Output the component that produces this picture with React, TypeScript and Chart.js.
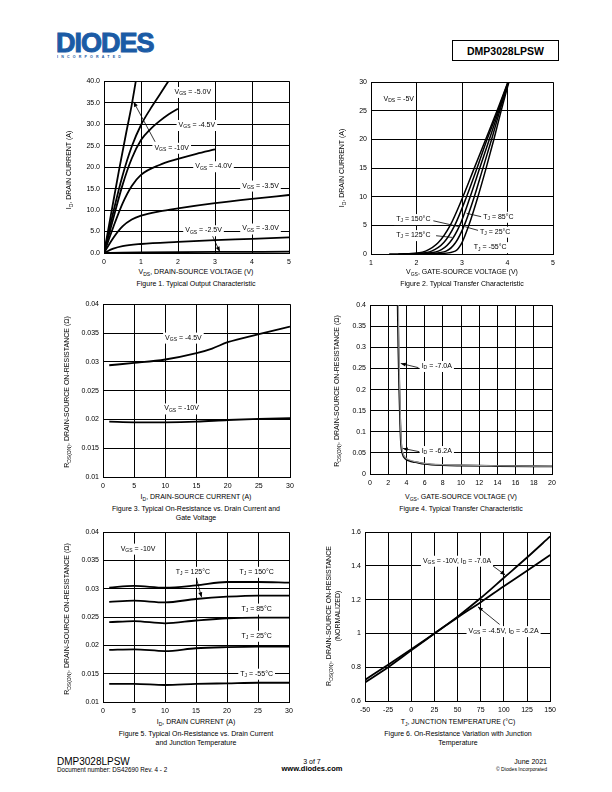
import React, { useEffect, useRef } from 'react';
import { Chart, registerables } from 'chart.js';
Chart.register(...registerables);

const FONT = '"Liberation Sans", Arial, Helvetica, sans-serif';
Chart.defaults.font.family = FONT;
Chart.defaults.font.size = 7;
Chart.defaults.color = '#000';

type P = [number, number];

// ---------- Figure 1: Typical Output Characteristic ----------
const fig1XTicks = [0, 1, 2, 3, 4, 5];
const fig1YTicks = [0, 5, 10, 15, 20, 25, 30, 35, 40];
const fig1Vgs10: P[] = [[0, 0], [0.2, 9.5], [0.4, 19], [0.6, 28], [0.75, 34.5], [0.86, 40]];
const fig1Vgs50: P[] = [[0, 0], [0.25, 9.5], [0.5, 18], [0.75, 24.8], [1, 29.8], [1.25, 33.5], [1.5, 36.8], [1.74, 40]];
const fig1Vgs45: P[] = [[0, 0], [0.25, 8], [0.5, 15.8], [0.75, 22], [1, 26.3], [1.25, 28.8], [1.5, 30.7], [1.75, 32.3], [2, 33.6]];
const fig1Vgs40: P[] = [[0, 0], [0.25, 6], [0.5, 11.5], [0.75, 15.6], [1, 18.2], [1.5, 20.5], [2, 21.9], [2.5, 23.1], [3, 24.1]];
const fig1Vgs35: P[] = [[0, 0], [0.25, 3.5], [0.5, 6.2], [0.75, 7.8], [1, 8.7], [1.5, 9.7], [2, 10.4], [3, 11.6], [4, 12.6], [5, 13.5]];
const fig1Vgs30: P[] = [[0, 0], [0.25, 1.0], [0.5, 1.6], [1, 2.1], [2, 2.6], [3, 3.0], [4, 3.3], [5, 3.66]];
const fig1Vgs25: P[] = [[0, 0], [0.5, 0.1], [1, 0.15], [3, 0.25], [5, 0.3]];

// ---------- Figure 2: Typical Transfer Characteristic ----------
const fig2XTicks = [1, 2, 3, 4, 5];
const fig2YTicks = [0, 5, 10, 15, 20, 25, 30];
const fig2T150: P[] = [[1.4, 0], [1.8, 0.05], [2.0, 0.15], [2.2, 0.5], [2.48, 2], [2.74, 5], [3.02, 10], [3.27, 15], [3.52, 20], [3.77, 25], [4.01, 30]];
const fig2T125: P[] = [[1.6, 0], [2.0, 0.12], [2.33, 0.5], [2.6, 2], [2.84, 5], [3.1, 10], [3.33, 15], [3.55, 20], [3.79, 25], [4.01, 30]];
const fig2T85: P[] = [[1.8, 0], [2.1, 0.1], [2.48, 0.5], [2.73, 2], [2.95, 5], [3.18, 10], [3.39, 15], [3.6, 20], [3.81, 25], [4.02, 30]];
const fig2T25: P[] = [[2.0, 0], [2.3, 0.12], [2.65, 0.5], [2.86, 2], [3.05, 5], [3.27, 10], [3.46, 15], [3.65, 20], [3.83, 25], [4.02, 30]];
const fig2Tm55: P[] = [[2.3, 0], [2.5, 0.08], [2.85, 0.5], [3.0, 2], [3.15, 5], [3.35, 10], [3.53, 15], [3.7, 20], [3.86, 25], [4.03, 30]];

// ---------- Figure 3: On-Resistance vs Drain Current and Gate Voltage ----------
const fig3XTicks = [0, 5, 10, 15, 20, 25, 30];
const fig3YTicks = [0.01, 0.015, 0.02, 0.025, 0.03, 0.035, 0.04];
const fig3Vgs45: P[] = [[1, 0.0294], [5, 0.0298], [10, 0.0304], [15, 0.0315], [17.5, 0.0323], [20, 0.0334], [25, 0.0348], [30, 0.0361]];
const fig3Vgs10: P[] = [[1, 0.0196], [5, 0.0195], [10, 0.0195], [15, 0.0196], [20, 0.0199], [25, 0.0201], [30, 0.0202]];

// ---------- Figure 4: On-Resistance vs Gate-Source Voltage ----------
const fig4XTicks = [0, 2, 4, 6, 8, 10, 12, 14, 16, 18, 20];
const fig4YTicks = [0, 0.05, 0.1, 0.15, 0.2, 0.25, 0.3, 0.35, 0.4];
const fig4Id70: P[] = [[3.05, 0.4], [3.12, 0.3], [3.22, 0.2], [3.32, 0.12], [3.42, 0.07], [3.6, 0.047], [3.85, 0.037], [4.5, 0.03], [5, 0.028], [6, 0.024], [8, 0.021], [10, 0.02], [14, 0.019], [20, 0.018]];
const fig4Id62: P[] = [[3.12, 0.4], [3.18, 0.3], [3.27, 0.2], [3.36, 0.12], [3.46, 0.072], [3.62, 0.05], [3.9, 0.039], [4.5, 0.032], [5, 0.029], [6, 0.025], [8, 0.022], [10, 0.021], [14, 0.0195], [20, 0.0185]];

// ---------- Figure 5: On-Resistance vs Drain Current and Temperature ----------
const fig5XTicks = [0, 5, 10, 15, 20, 25, 30];
const fig5YTicks = [0.01, 0.015, 0.02, 0.025, 0.03, 0.035, 0.04];
const fig5T150: P[] = [[1, 0.0302], [5, 0.0305], [10, 0.0302], [15, 0.0306], [20, 0.0312], [25, 0.0312], [30, 0.0311]];
const fig5T125: P[] = [[1, 0.0277], [5, 0.0279], [10, 0.0276], [15, 0.0282], [20, 0.0286], [25, 0.0288], [30, 0.0288]];
const fig5T85: P[] = [[1, 0.0241], [5, 0.0243], [10, 0.0239], [15, 0.0244], [20, 0.0248], [25, 0.0249], [30, 0.0249]];
const fig5T25: P[] = [[1, 0.0192], [5, 0.0193], [10, 0.019], [15, 0.0195], [20, 0.0197], [25, 0.0198], [30, 0.0198]];
const fig5Tm55: P[] = [[1, 0.0132], [5, 0.0132], [10, 0.013], [15, 0.0132], [20, 0.0133], [25, 0.0134], [30, 0.0134]];

// ---------- Figure 6: On-Resistance vs Junction Temperature ----------
const fig6XTicks = [-50, -25, 0, 25, 50, 75, 100, 125, 150];
const fig6YTicks = [0.6, 0.8, 1, 1.2, 1.4, 1.6];
const fig6Vgs10: P[] = [[-50, 0.71], [-25, 0.8], [0, 0.9], [25, 1.0], [50, 1.1], [75, 1.21], [100, 1.33], [125, 1.45], [150, 1.575]];
const fig6Vgs45: P[] = [[-50, 0.725], [-25, 0.815], [0, 0.907], [25, 1.0], [50, 1.095], [75, 1.185], [100, 1.28], [125, 1.372], [150, 1.465]];

// ---------- helpers ----------
type Part = { t: string; sub: boolean };
function parseRich(s: string): Part[] {
  const parts: Part[] = [];
  const re = /_\{([^}]*)\}/g;
  let last = 0;
  let m: RegExpExecArray | null;
  while ((m = re.exec(s))) {
    if (m.index > last) parts.push({ t: s.slice(last, m.index), sub: false });
    parts.push({ t: m[1], sub: true });
    last = re.lastIndex;
  }
  if (last < s.length) parts.push({ t: s.slice(last), sub: false });
  return parts;
}

type Label = { x: number; y: number; t: string };
type Arrow = { from: P; to: P; head?: boolean };
type Series = { data: P[]; color?: string; width?: number };
type Spec = {
  left: number; top: number; w: number; h: number;
  xMin: number; xMax: number; yMin: number; yMax: number;
  xTicks: number[]; yTicks: number[];
  xFmt: (v: number) => string; yFmt: (v: number) => string;
  series: Series[]; labels: Label[]; arrows: Arrow[];
};

function makeAnnotPlugin(labels: Label[], arrows: Arrow[]) {
  return {
    id: 'annots',
    afterDatasetsDraw(chart: any) {
      const { ctx } = chart;
      const xs = chart.scales.x;
      const ys = chart.scales.y;
      ctx.save();
      ctx.strokeStyle = '#000';
      ctx.fillStyle = '#000';
      ctx.lineWidth = 0.8;
      for (const a of arrows) {
        const x1 = xs.getPixelForValue(a.from[0]);
        const y1 = ys.getPixelForValue(a.from[1]);
        const x2 = xs.getPixelForValue(a.to[0]);
        const y2 = ys.getPixelForValue(a.to[1]);
        ctx.beginPath();
        ctx.moveTo(x1, y1);
        ctx.lineTo(x2, y2);
        ctx.stroke();
        if (a.head) {
          const ang = Math.atan2(y2 - y1, x2 - x1);
          const L = 5, W = 2;
          ctx.beginPath();
          ctx.moveTo(x2, y2);
          ctx.lineTo(x2 - L * Math.cos(ang) + W * Math.sin(ang), y2 - L * Math.sin(ang) - W * Math.cos(ang));
          ctx.lineTo(x2 - L * Math.cos(ang) - W * Math.sin(ang), y2 - L * Math.sin(ang) + W * Math.cos(ang));
          ctx.closePath();
          ctx.fill();
        }
      }
      const size = 7;
      const subSize = 5;
      for (const l of labels) {
        const cx = xs.getPixelForValue(l.x);
        const cy = ys.getPixelForValue(l.y);
        const parts = parseRich(l.t);
        let w = 0;
        const ws = parts.map((p) => {
          ctx.font = `${p.sub ? subSize : size}px ${FONT}`;
          const m = ctx.measureText(p.t).width;
          w += m;
          return m;
        });
        let x = cx - w / 2;
        ctx.fillStyle = '#fff';
        ctx.fillRect(x - 2, cy - 5, w + 4, 11);
        ctx.fillStyle = '#000';
        ctx.textBaseline = 'middle';
        ctx.textAlign = 'left';
        parts.forEach((p, i) => {
          ctx.font = `${p.sub ? subSize : size}px ${FONT}`;
          ctx.fillText(p.t, x, p.sub ? cy + 2 : cy);
          x += ws[i];
        });
      }
      ctx.restore();
    },
  };
}

const PAD_L = 40, PAD_T = 8, PAD_R = 10, PAD_B = 14;

function ChartBox({ spec }: { spec: Spec }) {
  const ref = useRef<HTMLCanvasElement>(null);
  const W = spec.w + PAD_L + PAD_R;
  const H = spec.h + PAD_T + PAD_B;
  useEffect(() => {
    const chart = new Chart(ref.current!, {
      type: 'line',
      data: {
        datasets: spec.series.map((s) => ({
          data: s.data.map(([x, y]) => ({ x, y })),
          borderColor: s.color || '#000',
          borderWidth: s.width || 1.8,
          pointRadius: 0,
          fill: false,
          cubicInterpolationMode: 'monotone' as const,
        })),
      },
      options: {
        animation: false,
        responsive: false,
        events: [],
        layout: { padding: { top: PAD_T, right: PAD_R, left: 0, bottom: 0 } },
        plugins: { legend: { display: false }, tooltip: { enabled: false } },
        scales: {
          x: {
            type: 'linear',
            min: spec.xMin,
            max: spec.xMax,
            afterBuildTicks: (s: any) => { s.ticks = spec.xTicks.map((v) => ({ value: v })); },
            afterFit: (s: any) => { s.height = PAD_B; },
            grid: { color: '#000', lineWidth: 1, drawTicks: false },
            border: { color: '#000', width: 1 },
            ticks: { color: '#000', padding: 5, font: { size: 7, family: FONT }, maxRotation: 0, autoSkip: false, callback: (v: any) => spec.xFmt(Number(v)) },
          },
          y: {
            type: 'linear',
            min: spec.yMin,
            max: spec.yMax,
            afterBuildTicks: (s: any) => { s.ticks = spec.yTicks.map((v) => ({ value: v })); },
            afterFit: (s: any) => { s.width = PAD_L; },
            grid: { color: '#000', lineWidth: 1, drawTicks: false },
            border: { color: '#000', width: 1 },
            ticks: { color: '#000', padding: 4, font: { size: 7, family: FONT }, autoSkip: false, callback: (v: any) => spec.yFmt(Number(v)) },
          },
        },
      },
      plugins: [makeAnnotPlugin(spec.labels, spec.arrows)],
    } as any);
    return () => chart.destroy();
  }, []);
  return (
    <canvas
      ref={ref}
      width={W}
      height={H}
      style={{ position: 'absolute', left: spec.left - PAD_L, top: spec.top - PAD_T, width: W, height: H }}
    />
  );
}

const num = (d: number) => (v: number) => String(Number(v.toFixed(d)));
const fixed1 = (v: number) => v.toFixed(1);

const specs: Spec[] = [
  {
    left: 104, top: 81, w: 185, h: 172, xMin: 0, xMax: 5, yMin: 0, yMax: 40,
    xTicks: fig1XTicks, yTicks: fig1YTicks, xFmt: num(0), yFmt: fixed1,
    series: [fig1Vgs10, fig1Vgs50, fig1Vgs45, fig1Vgs40, fig1Vgs35, fig1Vgs30, fig1Vgs25].map((d) => ({ data: d })),
    labels: [
      { x: 2.4, y: 37.5, t: 'V_{GS} = -5.0V' },
      { x: 2.51, y: 29.8, t: 'V_{GS} = -4.5V' },
      { x: 1.83, y: 24.5, t: 'V_{GS} = -10V' },
      { x: 2.96, y: 20.2, t: 'V_{GS} = -4.0V' },
      { x: 4.23, y: 15.7, t: 'V_{GS} = -3.5V' },
      { x: 4.23, y: 5.7, t: 'V_{GS} = -3.0V' },
      { x: 2.69, y: 5.3, t: 'V_{GS} = -2.5V' },
    ],
    arrows: [
      { from: [1.38, 25.9], to: [0.8, 35.2], head: true },
      { from: [2.92, 4.2], to: [3.13, 0.3], head: true },
    ],
  },
  {
    left: 371, top: 82, w: 182, h: 172, xMin: 1, xMax: 5, yMin: 0, yMax: 30,
    xTicks: fig2XTicks, yTicks: fig2YTicks, xFmt: num(0), yFmt: num(0),
    series: [fig2T150, fig2T125, fig2T85, fig2T25, fig2Tm55].map((d) => ({ data: d, width: 1.5 })),
    labels: [
      { x: 1.61, y: 27.1, t: 'V_{DS} = -5V' },
      { x: 1.93, y: 6.1, t: 'T_{J} = 150°C' },
      { x: 1.93, y: 3.3, t: 'T_{J} = 125°C' },
      { x: 3.8, y: 6.5, t: 'T_{J} = 85°C' },
      { x: 3.73, y: 3.9, t: 'T_{J} = 25°C' },
      { x: 3.62, y: 1.2, t: 'T_{J} = -55°C' },
    ],
    arrows: [
      { from: [2.37, 5.8], to: [2.92, 4.8] },
      { from: [2.43, 3.19], to: [2.78, 2.9] },
      { from: [3.43, 6.5], to: [3.1, 7.1] },
      { from: [3.38, 4.06], to: [3.07, 4.76] },
    ],
  },
  {
    left: 103, top: 304, w: 187, h: 173, xMin: 0, xMax: 30, yMin: 0.01, yMax: 0.04,
    xTicks: fig3XTicks, yTicks: fig3YTicks, xFmt: num(0), yFmt: num(3),
    series: [fig3Vgs45, fig3Vgs10].map((d) => ({ data: d })),
    labels: [
      { x: 12.9, y: 0.0342, t: 'V_{GS} = -4.5V' },
      { x: 12.6, y: 0.0219, t: 'V_{GS} = -10V' },
    ],
    arrows: [],
  },
  {
    left: 370, top: 305, w: 182, h: 169, xMin: 0, xMax: 20, yMin: 0, yMax: 0.4,
    xTicks: fig4XTicks, yTicks: fig4YTicks, xFmt: num(0), yFmt: num(2),
    series: [{ data: fig4Id62, color: '#9a9a9a', width: 1.2 }, { data: fig4Id70, width: 1.9 }],
    labels: [
      { x: 7.34, y: 0.256, t: 'I_{D} = -7.0A' },
      { x: 7.34, y: 0.0544, t: 'I_{D} = -6.2A' },
    ],
    arrows: [
      { from: [5.32, 0.252], to: [3.38, 0.262], head: true },
      { from: [5.43, 0.0528], to: [3.6, 0.0607], head: true },
    ],
  },
  {
    left: 103, top: 532, w: 186, h: 170, xMin: 0, xMax: 30, yMin: 0.01, yMax: 0.04,
    xTicks: fig5XTicks, yTicks: fig5YTicks, xFmt: num(0), yFmt: num(3),
    series: [fig5T150, fig5T125, fig5T85, fig5T25, fig5Tm55].map((d) => ({ data: d })),
    labels: [
      { x: 5.65, y: 0.0371, t: 'V_{GS} = -10V' },
      { x: 14.5, y: 0.033, t: 'T_{J} = 125°C' },
      { x: 24.78, y: 0.033, t: 'T_{J} = 150°C' },
      { x: 24.78, y: 0.0265, t: 'T_{J} = 85°C' },
      { x: 24.78, y: 0.0217, t: 'T_{J} = 25°C' },
      { x: 24.78, y: 0.015, t: 'T_{J} = -55°C' },
    ],
    arrows: [{ from: [15.1, 0.0317], to: [15.9, 0.0285], head: true }],
  },
  {
    left: 365, top: 532, w: 186, h: 169, xMin: -50, xMax: 150, yMin: 0.6, yMax: 1.6,
    xTicks: fig6XTicks, yTicks: fig6YTicks, xFmt: num(0), yFmt: num(1),
    series: [fig6Vgs10, fig6Vgs45].map((d) => ({ data: d })),
    labels: [
      { x: 49.4, y: 1.431, t: 'V_{GS} = -10V, I_{D} = -7.0A' },
      { x: 99.7, y: 1.014, t: 'V_{GS} = -4.5V, I_{D} = -6.2A' },
    ],
    arrows: [
      { from: [88.2, 1.4], to: [101.5, 1.346], head: true },
      { from: [95.4, 1.0535], to: [72, 1.158], head: true },
    ],
  },
];

function Rich({ s }: { s: string }) {
  return (
    <>
      {parseRich(s).map((p, i) =>
        p.sub ? (
          <span key={i} style={{ fontSize: '5px', position: 'relative', top: '1.5px' }}>{p.t}</span>
        ) : (
          <span key={i}>{p.t}</span>
        )
      )}
    </>
  );
}

function Txt({ x, y, s, size = 7, rot = false, bold = false, align = 'center', lines }: any) {
  const tr = align === 'center' ? 'translate(-50%,-50%)' : align === 'right' ? 'translate(-100%,-50%)' : 'translate(0,-50%)';
  const content = lines
    ? lines.map((l: string, i: number) => <div key={i}><Rich s={l} /></div>)
    : <Rich s={s} />;
  return (
    <div
      style={{
        position: 'absolute', left: x, top: y, transform: tr + (rot ? ' rotate(-90deg)' : ''),
        whiteSpace: 'nowrap', fontSize: size, fontWeight: bold ? 'bold' : 'normal', lineHeight: 1.25,
        textAlign: 'center', fontFamily: FONT, color: '#000',
      }}
    >
      {content}
    </div>
  );
}

export default function App() {
  return (
    <div style={{ position: 'absolute', left: 0, top: 0, width: 612, height: 792, background: '#fff', fontFamily: FONT, overflow: 'hidden' }}>
      {/* Header */}
      <div style={{ position: 'absolute', left: 56, top: 30, fontSize: 27, fontWeight: 900, color: '#1b5ba5', letterSpacing: '-1px', fontFamily: FONT, lineHeight: 1, WebkitTextStroke: '1px #1b5ba5' }}>DIODES</div>
      <div style={{ position: 'absolute', left: 57, top: 55, fontSize: 6, color: '#1b5ba5', letterSpacing: '5.3px', transform: 'scale(0.6)', transformOrigin: 'left top', whiteSpace: 'nowrap', fontWeight: 'bold' }}>INCORPORATED</div>
      <div style={{ position: 'absolute', left: 452, top: 40, width: 105, height: 19, border: '1px solid #000', display: 'flex', alignItems: 'center', justifyContent: 'center', fontWeight: 'bold', fontSize: 10.5 }}>DMP3028LPSW</div>

      {specs.map((s, i) => <ChartBox key={i} spec={s} />)}

      {/* Figure 1 */}
      <Txt x={69} y={170} rot s="I_{D}, DRAIN CURRENT (A)" />
      <Txt x={196} y={272} s="V_{DS}, DRAIN-SOURCE VOLTAGE (V)" />
      <Txt x={196} y={284} s="Figure 1. Typical Output Characteristic" />
      {/* Figure 2 */}
      <Txt x={342} y={168} rot s="I_{D}, DRAIN CURRENT (A)" />
      <Txt x={462} y={272} s="V_{GS}, GATE-SOURCE VOLTAGE (V)" />
      <Txt x={462} y={284} s="Figure 2. Typical Transfer Characteristic" />
      {/* Figure 3 */}
      <Txt x={67} y={392} rot s="R_{DS(ON)}, DRAIN-SOURCE ON-RESISTANCE (Ω)" />
      <Txt x={196} y={497} s="I_{D}, DRAIN-SOURCE CURRENT (A)" />
      <Txt x={196} y={514} lines={['Figure 3. Typical On-Resistance vs. Drain Current and', 'Gate Voltage']} />
      {/* Figure 4 */}
      <Txt x={337} y={391} rot s="R_{DS(ON)}, DRAIN-SOURCE ON-RESISTANCE (Ω)" />
      <Txt x={461} y={497} s="V_{GS}, GATE-SOURCE VOLTAGE (V)" />
      <Txt x={461} y={509} s="Figure 4. Typical Transfer Characteristic" />
      {/* Figure 5 */}
      <Txt x={67} y={619} rot s="R_{DS(ON)}, DRAIN-SOURCE ON-RESISTANCE (Ω)" />
      <Txt x={196} y={722} s="I_{D}, DRAIN CURRENT (A)" />
      <Txt x={196} y={739} lines={['Figure 5. Typical On-Resistance vs. Drain Current', 'and Junction Temperature']} />
      {/* Figure 6 */}
      <Txt x={334} y={616} rot lines={['R_{DS(ON)}, DRAIN-SOURCE ON-RESISTANCE', '(NORMALIZED)']} />
      <Txt x={458} y={722} s="T_{J}, JUNCTION TEMPERATURE (°C)" />
      <Txt x={458} y={739} lines={['Figure 6. On-Resistance Variation with Junction', 'Temperature']} />

      {/* Footer */}
      <Txt x={57} y={762} s="DMP3028LPSW" size={10} align="left" />
      <Txt x={57} y={770} s="Document number: DS42690  Rev. 4 - 2" size={6.3} align="left" />
      <Txt x={312} y={762} s="3 of 7" size={7} />
      <Txt x={312} y={769} s="www.diodes.com" size={7.5} bold />
      <Txt x={547} y={762} s="June 2021" size={7} align="right" />
      <div style={{ position: 'absolute', left: 547, top: 769, transform: 'translate(-100%,-50%) scale(0.85)', transformOrigin: 'right center', fontSize: 6, whiteSpace: 'nowrap' }}>© Diodes Incorporated</div>
    </div>
  );
}
